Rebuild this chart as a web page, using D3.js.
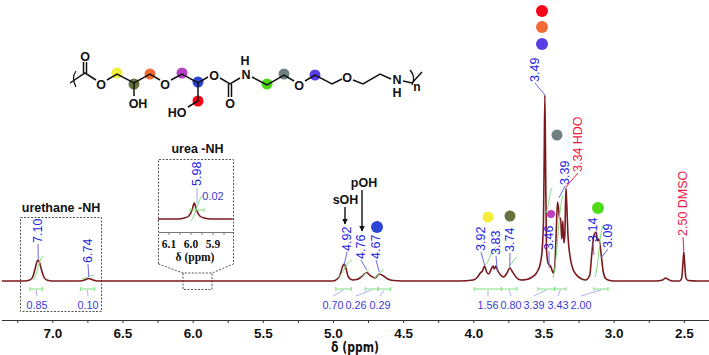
<!DOCTYPE html>
<html>
<head>
<meta charset="utf-8">
<script src="https://cdnjs.cloudflare.com/ajax/libs/d3/7.8.5/d3.min.js"></script>
<style>
html, body { margin: 0; padding: 0; background: #fff; }
svg { display: block; }
text { font-family: "Liberation Sans", Arial, sans-serif; }
</style>
</head>
<body>
<svg id="chart" width="709" height="355"></svg>
<script>
// spectrum: shift in ppm, height in pixels above baseline
var spectrumPpm = [7.36, 7.2, 7.16, 7.14, 7.125, 7.11, 7.10, 7.09, 7.075, 7.06, 7.04, 7.0, 6.8, 6.77, 6.74, 6.71, 6.68, 6.4, 6.0, 5.5, 5.0, 4.97, 4.95, 4.93, 4.92, 4.91, 4.89, 4.86, 4.82, 4.79, 4.76, 4.73, 4.70, 4.67, 4.64, 4.61, 4.57, 4.45, 4.1, 4.0, 3.97, 3.95, 3.935, 3.92, 3.905, 3.89, 3.875, 3.86, 3.85, 3.84, 3.825, 3.805, 3.785, 3.76, 3.74, 3.72, 3.69, 3.66, 3.62, 3.58, 3.55, 3.525, 3.51, 3.50, 3.495, 3.49, 3.485, 3.478, 3.465, 3.45, 3.43, 3.42, 3.41, 3.40, 3.392, 3.385, 3.378, 3.37, 3.362, 3.355, 3.348, 3.34, 3.335, 3.325, 3.31, 3.29, 3.27, 3.24, 3.2, 3.17, 3.155, 3.14, 3.125, 3.115, 3.105, 3.09, 3.075, 3.06, 3.04, 3.0, 2.7, 2.65, 2.63, 2.61, 2.58, 2.53, 2.515, 2.505, 2.5, 2.495, 2.485, 2.47, 2.4, 2.32];
var spectrumHeight = [0, 0, 1, 4, 11, 19, 21, 18, 10, 4, 1, 0, 0, 1, 2.5, 1, 0, 0, 0, 0, 0, 2, 6, 15, 17, 14, 4, 1, 2, 5, 8.5, 5, 3, 7, 5, 2, 0.5, 0, 0, 1, 4, 8, 10, 15, 9, 7, 11, 15, 12, 15, 10, 6, 4, 8, 13, 9, 3, 1, 1.5, 4, 8, 16, 30, 60, 120, 186, 120, 30, 17, 15, 8, 14, 45, 79, 72, 62, 63, 42, 60, 38, 45, 93, 80, 45, 24, 12, 7, 3, 1, 6, 28, 46, 49, 40, 42, 28, 10, 3, 1, 0, 0, 1, 3, 1.5, 0, 0, 3, 20, 29, 20, 3, 0.5, 0, 0];

var xTicks = [7.25, 7.0, 6.75, 6.5, 6.25, 6.0, 5.75, 5.5, 5.25, 5.0, 4.75, 4.5, 4.25, 4.0, 3.75, 3.5, 3.25, 3.0, 2.75, 2.5];

// inset around the urea peak
var insetPpm = [6.15, 6.06, 6.03, 6.01, 5.995, 5.985, 5.975, 5.96, 5.94, 5.91, 5.81];
var insetHeight = [0, 0, 1, 3, 9, 16, 9, 3, 1, 0, 0];
var insetTicks = [6.1, 6.0, 5.9];

// peak labels: ppm, text, text centre x, text bottom y, end of leader
var peakValues = [7.10, 6.74, 4.92, 4.76, 4.67, 3.92, 3.83, 3.74, 3.49, 3.46, 3.39, 3.14, 3.09];
var peakLabels = ["7.10", "6.74", "4.92", "4.76", "4.67", "3.92", "3.83", "3.74", "3.49", "3.46", "3.39", "3.14", "3.09"];
var peakLabelX = [38, 88, 347, 361, 376, 481, 496, 510, 535, 549, 565, 593, 608];
var peakLabelY = [243, 263, 251, 259, 259, 251, 255, 252, 82, 250, 185, 242, 248];
var peakLeaderY = [259, 277, 265, 270, 272, 265, 270, 268, 95, 268, 198, 255, 258];

// integrals: ppm from, ppm to, value, text centre x
var integralFrom = [7.16, 6.80, 4.98, 4.77, 4.68, 3.99, 3.80, 3.54, 3.42, 3.14];
var integralTo = [7.07, 6.70, 4.87, 4.68, 4.59, 3.80, 3.69, 3.42, 3.34, 3.04];
var integralLabels = ["0.85", "0.10", "0.70", "0.26", "0.29", "1.56", "0.80", "3.39", "3.43", "2.00"];
var integralLabelX = [37, 88, 333, 356, 380, 488, 511, 534, 558, 581];
// running integral curves, page pixels: x0, y0, x1, y1
var integralCurves = [
    [33, 280, 43, 256], [82, 279, 94, 275], [337, 278, 352, 260], [361, 278, 369, 270], [374, 278, 384, 270],
    [485, 265, 496, 247], [510, 265, 517, 257], [546, 213, 552, 188], [553, 278, 563, 195], [595, 277, 603, 225]
];

// assignment dots
var dotX = [377, 488, 510, 551, 598, 557, 542, 542, 542];
var dotY = [227, 217, 216, 214, 208, 135, 11, 27, 44];
var dotR = [6, 5.5, 5.5, 4, 6, 5.5, 6, 6, 6];
var dotColors = ["#2b45d6", "#f2ee3a", "#66733f", "#c03fc0", "#4fd916", "#6f8080", "#f5041a", "#f56a32", "#5a3ce8"];

// polymer repeat unit, drawn in the page's own pixels
var bondLines = [
    [[70, 83], [85, 73], [96, 80]], [[83.5, 73], [83.5, 62]], [[86.5, 73], [86.5, 62]],
    [[107, 80], [117, 74], [134, 83], [150, 74], [160, 80]], [[134, 83], [134, 96]],
    [[171, 80], [182, 74], [198, 83], [208, 77]], [[198, 83], [198, 101], [188, 107]],
    [[220, 78], [230, 84], [240, 78]], [[228.5, 84], [228.5, 97]], [[231.5, 84], [231.5, 97]],
    [[252, 77], [267, 85], [284, 75], [294, 81]],
    [[305, 81], [315, 75], [332, 84], [342, 79]],
    [[353, 80], [363, 84], [380, 74], [391, 79]],
    [[403, 81], [412, 83], [422, 72]]
];
var atomLabels = ["O", "O", "OH", "O", "O", "HO", "O", "H", "N", "O", "O", "N", "H"];
var atomX = [85, 101, 138, 165, 214, 177, 230, 245, 246, 299, 347, 397, 397];
var atomY = [56, 84, 103, 84, 75, 112, 103, 60, 74, 85, 77, 79, 92];
var molDotX = [117, 134, 150, 182, 198, 198, 267, 284, 315];
var molDotY = [73, 84, 74, 73, 82, 101, 84, 74, 75];
var molDotColors = ["#f2f03a", "#66733f", "#f56a32", "#b63fc8", "#2b45d6", "#f5041a", "#4fd916", "#6f8080", "#5a3ce8"];

var svg = d3.select("#chart");

var blue = "#3a3ad8";
var peakBlue = "#2424e4";
var red = "#ee1744";
var green = "#7fe07f";
var traceColor = "#7a1a1e";

var x = d3.scaleLinear().domain([4.0, 2.5]).range([473.3, 683.8]);
var y = d3.scaleLinear().domain([0, 186]).range([281, 95]);
var insetX = d3.scaleLinear().domain([6.1, 5.9]).range([169, 213]);

var trace = d3.line()
    .x(function (d) { return x(d[0]); })
    .y(function (d) { return y(d[1]); })
    .curve(d3.curveMonotoneX);

var insetTrace = d3.line()
    .x(function (d) { return insetX(d[0]); })
    .y(function (d) { return 219 - d[1]; })
    .curve(d3.curveMonotoneX);

// dashed boxes go under the trace
var dashed = svg.append("g")
    .attr("fill", "none")
    .attr("stroke", "#555")
    .attr("stroke-width", 1)
    .attr("stroke-dasharray", "2,1.5");
dashed.append("rect").attr("x", 20.5).attr("y", 217.5).attr("width", 81).attr("height", 94);
dashed.append("path").attr("d", "M158.5,264 V159.5 H233.5 V264 L212,273 H183 Z");
dashed.append("path").attr("d", "M183,273 V289.5 H212 V273");

// main trace
svg.append("path")
    .datum(spectrumPpm.map(function (d, i) { return [d, spectrumHeight[i]]; }))
    .attr("fill", "none")
    .attr("stroke", traceColor)
    .attr("stroke-width", 1.6)
    .attr("d", trace);

// x axis
var axis = svg.append("g")
    .attr("transform", "translate(0,320)")
    .call(d3.axisBottom(x).tickValues(xTicks).tickSize(3).tickFormat(function (d) {
        return d * 2 === Math.round(d * 2) ? d.toFixed(1) : "";
    }));
axis.select(".domain").attr("d", "M2,0.5H709").attr("stroke", "#333").attr("stroke-width", 1);
axis.selectAll("line").attr("stroke", "#333");
axis.selectAll("text")
    .attr("y", 8)
    .style("font-family", "'Liberation Sans', Arial, sans-serif")
    .style("font-size", "13.5px")
    .style("font-weight", "bold")
    .attr("fill", "#111");

svg.append("text")
    .attr("x", 355).attr("y", 352)
    .attr("text-anchor", "middle")
    .attr("font-size", "13.5px").attr("font-weight", "bold").attr("fill", "#111")
    .style("font-family", "'DejaVu Sans', sans-serif")
    .attr("textLength", 48).attr("lengthAdjust", "spacingAndGlyphs")
    .text("δ (ppm)");

// inset
var inset = svg.append("g");
inset.append("path")
    .datum(insetPpm.map(function (d, i) { return [d, insetHeight[i]]; }))
    .attr("fill", "none")
    .attr("stroke", traceColor)
    .attr("stroke-width", 1.6)
    .attr("d", insetTrace);
inset.append("line")
    .attr("x1", 159).attr("x2", 233).attr("y1", 232.5).attr("y2", 232.5)
    .attr("stroke", "#777");
inset.selectAll(".insetTick")
    .data(d3.range(6.1, 5.84, -0.05))
    .enter().append("line")
    .attr("x1", function (d) { return insetX(d); })
    .attr("x2", function (d) { return insetX(d); })
    .attr("y1", 232.5).attr("y2", 235)
    .attr("stroke", "#777");
inset.selectAll(".insetLabel")
    .data(insetTicks)
    .enter().append("text")
    .attr("x", function (d) { return insetX(d); })
    .attr("y", 248)
    .attr("text-anchor", "middle")
    .attr("font-size", "11.5px").attr("font-weight", "bold").attr("fill", "#111")
    .style("font-family", "'Liberation Serif', serif")
    .text(function (d) { return d.toFixed(1); });
inset.append("text")
    .attr("x", 195).attr("y", 261)
    .attr("text-anchor", "middle")
    .attr("font-size", "11.5px").attr("font-weight", "bold").attr("fill", "#111")
    .style("font-family", "'Liberation Serif', serif")
    .text("δ (ppm)");
inset.append("path")
    .attr("d", "M190,210 H204 M190,208 V212 M204,208 V212 M191,221 C196,215 198,198 203,195")
    .attr("fill", "none").attr("stroke", green);
inset.append("line")
    .attr("x1", 197).attr("x2", 197).attr("y1", 188).attr("y2", 203)
    .attr("stroke", "#a8a8ee");
inset.append("text")
    .attr("transform", "translate(201,186) rotate(-90)")
    .attr("font-size", "12.5px").attr("fill", peakBlue)
    .text("5.98");
inset.append("text")
    .attr("x", 213).attr("y", 200)
    .attr("text-anchor", "middle")
    .attr("font-size", "11px").attr("fill", blue)
    .text("0.02");

// integrals
var integrals = svg.append("g");
integralLabels.forEach(function (label, i) {
    var x0 = x(integralFrom[i]), x1 = x(integralTo[i]), mid = (x0 + x1) / 2;
    var c = integralCurves[i];
    integrals.append("path")
        .attr("d", "M" + x0 + ",289 H" + x1 + " M" + x0 + ",287 V291 M" + x1 + ",287 V291")
        .attr("fill", "none").attr("stroke", green);
    integrals.append("line")
        .attr("x1", mid).attr("x2", integralLabelX[i])
        .attr("y1", 290).attr("y2", 296)
        .attr("stroke", "#9a9ae8").attr("stroke-width", 0.8);
    integrals.append("text")
        .attr("x", integralLabelX[i]).attr("y", 308.5)
        .attr("text-anchor", "middle")
        .attr("font-size", "10.8px").attr("fill", blue)
        .text(label);
    // running integral curve over the peak
    integrals.append("path")
        .attr("d", "M" + c[0] + "," + c[1] + " C" + (c[0] + (c[2] - c[0]) * 0.45) + "," + (c[1] - (c[1] - c[3]) * 0.2) + " " + (c[0] + (c[2] - c[0]) * 0.5) + "," + (c[3] + (c[1] - c[3]) * 0.2) + " " + c[2] + "," + c[3])
        .attr("fill", "none").attr("stroke", green).attr("stroke-width", 1);
});

// peak labels
var peaks = svg.append("g");
peakLabels.forEach(function (label, i) {
    peaks.append("path")
        .attr("d", "M" + peakLabelX[i] + "," + (peakLabelY[i] + 1) + " L" + x(peakValues[i]) + "," + peakLeaderY[i])
        .attr("fill", "none").attr("stroke", "#6a6ae6").attr("stroke-width", 1);
    peaks.append("text")
        .attr("transform", "translate(" + (peakLabelX[i] + 4) + "," + peakLabelY[i] + ") rotate(-90)")
        .attr("font-size", "12.5px").attr("fill", peakBlue)
        .text(label);
});

// solvent labels
var solventLabels = ["3.34 HDO", "2.50 DMSO"];
var solventValues = [3.34, 2.50];
var solventLabelX = [578, 683];
var solventLabelY = [172, 236];
var solventLeaderY = [187, 251];
solventLabels.forEach(function (label, i) {
    svg.append("path")
        .attr("d", "M" + solventLabelX[i] + "," + (solventLabelY[i] + 1) + " L" + x(solventValues[i]) + "," + solventLeaderY[i])
        .attr("fill", "none").attr("stroke", red).attr("stroke-width", 1);
    svg.append("text")
        .attr("transform", "translate(" + (solventLabelX[i] + 4) + "," + solventLabelY[i] + ") rotate(-90)")
        .attr("font-size", "12.5px").attr("fill", red)
        .text(label);
});

// assignment dots
svg.selectAll(".dot")
    .data(dotX)
    .enter().append("circle")
    .attr("cx", function (d) { return d; })
    .attr("cy", function (d, i) { return dotY[i]; })
    .attr("r", function (d, i) { return dotR[i]; })
    .attr("fill", function (d, i) { return dotColors[i]; });

// bold annotations
var noteLabels = ["urethane -NH", "urea -NH", "sOH", "pOH"];
var noteX = [61, 197.5, 345.5, 364];
var noteY = [212, 153, 204, 187];
svg.selectAll(".note")
    .data(noteLabels)
    .enter().append("text")
    .attr("x", function (d, i) { return noteX[i]; })
    .attr("y", function (d, i) { return noteY[i]; })
    .attr("text-anchor", "middle")
    .attr("font-size", "12.5px").attr("font-weight", "bold").attr("fill", "#111")
    .text(function (d) { return d; });

svg.append("defs").append("marker")
    .attr("id", "arrow")
    .attr("viewBox", "0 0 10 10")
    .attr("refX", 9).attr("refY", 5)
    .attr("markerWidth", 4).attr("markerHeight", 5)
    .attr("orient", "auto")
    .append("path").attr("d", "M0,0 L10,5 L0,10 Z").attr("fill", "#111");
[[345, 207, 224], [362, 190, 231]].forEach(function (a) {
    svg.append("line")
        .attr("x1", a[0]).attr("x2", a[0]).attr("y1", a[1]).attr("y2", a[2])
        .attr("stroke", "#111").attr("stroke-width", 1.4)
        .attr("marker-end", "url(#arrow)");
});

// molecule
var mol = svg.append("g");
mol.selectAll(".molDot")
    .data(molDotX)
    .enter().append("circle")
    .attr("cx", function (d) { return d; })
    .attr("cy", function (d, i) { return molDotY[i]; })
    .attr("r", 5.5)
    .attr("fill", function (d, i) { return molDotColors[i]; });
mol.selectAll(".bond")
    .data(bondLines)
    .enter().append("path")
    .attr("d", d3.line())
    .attr("fill", "none")
    .attr("stroke", "#111")
    .attr("stroke-width", 1.5);
mol.selectAll(".atom")
    .data(atomLabels)
    .enter().append("text")
    .attr("x", function (d, i) { return atomX[i]; })
    .attr("y", function (d, i) { return atomY[i] + 5; })
    .attr("text-anchor", "middle")
    .attr("font-size", "12.5px").attr("font-weight", "bold").attr("fill", "#111")
    .text(function (d) { return d; });
mol.append("path")
    .attr("d", "M76,71 Q71,78 76,87 M410,70 Q416,77 412,85")
    .attr("fill", "none").attr("stroke", "#111").attr("stroke-width", 1.2);
mol.append("text")
    .attr("x", 417).attr("y", 91)
    .attr("text-anchor", "middle")
    .attr("font-size", "12px").attr("font-weight", "bold").attr("fill", "#111")
    .text("n");
</script>
</body>
</html>
